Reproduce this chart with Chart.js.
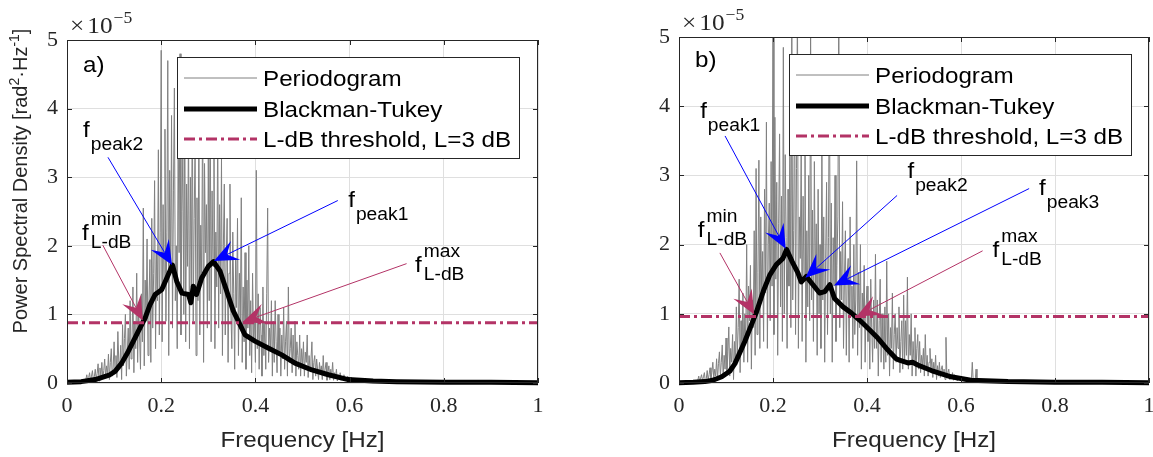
<!DOCTYPE html>
<html>
<head>
<meta charset="utf-8">
<script src="https://cdn.jsdelivr.net/npm/chart.js@4.4.0/dist/chart.umd.min.js"></script>
<style>
  html, body { margin: 0; padding: 0; background: #fff; }
  #wrap { position: relative; width: 1153px; height: 457px; overflow: hidden; }
  canvas { position: absolute; top: 0; }
</style>
</head>
<body>
<div id="wrap">
  <canvas id="chartA" width="576" height="457" style="left:0px"></canvas>
  <canvas id="chartB" width="577" height="457" style="left:576px"></canvas>
</div>
<script>
// ---- data (PSD values in units of 1e-5 rad^2/Hz) ----
const PG_START = 0.04;  // first periodogram bin shown [Hz]
const PG_STEP = 0.002;  // periodogram frequency spacing [Hz]
const xTickVals = [0, 0.2, 0.4, 0.6, 0.8, 1];
const xTickLabels = ['0', '0.2', '0.4', '0.6', '0.8', '1'];
const yTickVals = [0, 1, 2, 3, 4, 5];
const yTickLabels = ['0', '1', '2', '3', '4', '5'];
const legendLabels = ['Periodogram', 'Blackman-Tukey', 'L-dB threshold, L=3 dB'];

// panel a) periodogram, one row per 0.02 Hz starting at 0.04 Hz
const pgramA = [
  0.05,0.12,0.03,0.08,0.15,0.02,0.10,0.18,0.04,0.09,
  0.20,0.05,0.14,0.28,0.03,0.22,0.10,0.30,0.06,0.18,
  0.35,0.08,0.25,0.12,0.42,0.05,0.30,0.50,0.10,0.22,
  0.60,0.15,0.40,0.08,0.75,0.30,0.20,0.55,0.05,0.85,
  0.25,0.65,1.00,0.10,0.45,0.80,0.20,1.20,0.35,0.60,
  1.40,0.15,0.90,0.50,1.60,0.30,1.10,0.70,0.20,1.30,
  0.60,2.55,0.25,1.50,0.90,2.10,0.40,1.20,1.80,0.30,
  2.40,0.80,1.60,2.95,0.50,1.90,1.20,3.40,0.70,2.20,
  4.85,0.60,2.60,1.40,3.70,0.90,2.20,4.70,0.40,3.10,
  1.60,3.90,0.80,2.80,4.30,1.20,2.00,0.50,3.60,1.90,
  4.80,0.70,2.50,3.40,1.00,4.10,0.60,2.90,1.70,3.80,
  0.50,3.00,1.40,4.20,0.90,2.40,3.50,0.40,2.70,1.20,
  3.80,0.70,2.30,1.60,4.20,0.30,3.20,1.90,2.60,0.80,
  3.30,1.20,4.40,0.60,2.80,1.70,3.75,0.50,2.20,1.40,
  3.75,0.80,2.60,1.30,3.30,0.40,2.00,2.90,0.70,1.80,
  2.40,0.30,1.60,2.90,1.00,0.50,2.20,1.30,0.20,1.80,
  1.10,2.40,0.40,1.60,0.90,2.70,0.30,1.40,0.60,1.90,
  0.20,1.50,0.80,2.00,0.40,1.20,0.15,1.60,0.60,1.00,
  0.30,3.10,0.50,1.30,0.20,1.10,0.70,0.10,1.40,0.40,
  0.90,0.20,1.30,2.55,0.30,0.80,0.50,1.20,0.10,0.90,
  0.30,1.20,0.60,0.15,1.00,0.40,0.80,0.10,0.70,0.35,
  1.10,0.20,0.60,0.90,0.10,1.40,0.30,0.50,0.80,0.15,
  0.70,0.30,0.90,0.10,0.60,0.40,0.20,0.70,0.10,0.50,
  0.25,0.60,0.10,0.45,0.30,0.70,0.08,0.40,0.20,0.35,
  0.60,0.05,0.30,0.40,0.10,0.35,0.20,0.05,0.30,0.15,
  0.25,0.05,0.40,0.10,0.20,0.30,0.04,0.15,0.25,0.05,
  0.20,0.10,0.30,0.04,0.15,0.08,0.20,0.03,0.12,0.05,
  0.15,0.04,0.10,0.06,0.12,0.03,0.08,0.05,0.10,0.02,
  0.06,0.03,0.08,0.02,0.05,0.04,0.03,0.05,0.02,0.03,
  0.04,0.02,0.03,0.02,0.03,0.01,0.02,0.02,0.01,0.02
];
const btFreqA = [0, 0.03, 0.06, 0.091, 0.102, 0.116, 0.130, 0.151, 0.166, 0.176, 0.187, 0.201, 0.212, 0.224, 0.233, 0.244, 0.258, 0.263, 0.268, 0.275, 0.286, 0.300, 0.311, 0.325, 0.339, 0.353, 0.364, 0.378, 0.399, 0.427, 0.456, 0.484, 0.520, 0.555, 0.597, 0.65, 0.70, 0.80, 0.90, 1.0];
const btValA  = [0.01, 0.02, 0.05, 0.12, 0.17, 0.29, 0.46, 0.75, 0.95, 1.14, 1.29, 1.36, 1.53, 1.72, 1.48, 1.31, 1.29, 1.17, 1.41, 1.29, 1.53, 1.70, 1.77, 1.63, 1.34, 1.05, 0.90, 0.70, 0.61, 0.51, 0.41, 0.29, 0.19, 0.12, 0.05, 0.03, 0.02, 0.01, 0.01, 0.005];
const thresholdA = 0.88;

// panel b) periodogram, one row per 0.02 Hz starting at 0.04 Hz
const pgramB = [
  0.04,0.10,0.02,0.07,0.12,0.03,0.09,0.15,0.02,0.06,
  0.18,0.04,0.12,0.22,0.05,0.15,0.30,0.06,0.20,0.10,
  0.35,0.05,0.28,0.45,0.10,0.30,0.55,0.08,0.40,0.20,
  0.65,0.15,0.45,0.81,0.10,0.50,0.30,0.70,0.05,0.60,
  0.25,1.10,0.40,0.80,1.50,0.15,0.90,0.50,1.30,0.30,
  1.00,0.60,2.00,0.30,1.40,0.90,1.70,0.20,1.20,0.80,
  2.20,0.40,3.10,0.70,1.60,3.22,0.50,2.40,1.20,1.90,
  0.60,2.80,1.30,3.77,0.50,2.00,2.60,0.90,3.20,1.40,
  5.60,0.70,3.84,1.50,2.90,0.40,2.30,3.60,1.10,2.70,
  0.60,4.85,1.00,3.30,2.10,0.50,2.80,1.40,3.90,0.80,
  5.40,1.20,2.20,4.60,0.70,3.10,5.50,0.50,2.40,1.80,
  3.40,0.60,2.70,1.50,3.90,0.30,2.20,1.10,3.00,0.90,
  5.30,1.20,2.50,0.60,3.20,1.40,2.30,0.40,2.80,1.00,
  2.00,0.50,3.50,1.20,2.40,0.30,1.80,2.90,0.70,2.10,
  4.75,1.00,2.60,0.30,2.10,1.40,3.00,0.60,1.70,2.40,
  5.60,0.80,1.90,1.20,2.62,0.50,1.50,2.20,0.40,1.60,
  1.80,0.30,2.40,1.00,1.40,0.50,2.00,0.70,1.20,3.21,
  0.40,1.60,0.80,2.00,0.20,1.30,0.90,1.70,0.30,1.10,
  1.40,0.60,1.10,0.20,1.50,0.80,0.30,1.20,0.50,1.86,
  0.50,1.20,0.10,0.90,1.50,0.30,1.00,0.60,0.20,1.10,
  0.30,1.76,0.40,1.00,0.10,0.80,0.50,1.30,0.20,0.70,
  1.00,0.30,0.80,0.50,1.10,0.15,0.60,0.90,0.20,1.27,
  0.30,0.90,0.40,1.53,0.20,0.70,0.40,1.00,0.10,0.60,
  0.30,0.80,0.10,0.50,0.70,0.20,0.60,0.15,0.40,0.25,
  0.50,0.10,0.70,0.20,0.40,0.10,0.30,0.50,0.20,0.35,
  0.08,0.30,0.15,0.40,0.05,0.25,0.10,0.30,0.08,0.20,
  0.25,0.10,0.20,0.05,0.66,0.08,0.15,0.20,0.05,0.12,
  0.08,0.15,0.04,0.12,0.06,0.10,0.03,0.08,0.05,0.10,
  0.04,0.08,0.03,0.06,0.05,0.04,0.03,0.06,0.02,0.04,
  0.05,0.02,0.30,0.03,0.04,0.02,0.20,0.02,0.03,0.02
];
const btFreqB = [0, 0.03, 0.055, 0.072, 0.091, 0.108, 0.119, 0.140, 0.154, 0.165, 0.179, 0.193, 0.207, 0.221, 0.229, 0.241, 0.253, 0.260, 0.271, 0.285, 0.299, 0.310, 0.321, 0.331, 0.349, 0.367, 0.384, 0.402, 0.423, 0.444, 0.462, 0.469, 0.487, 0.497, 0.508, 0.537, 0.579, 0.621, 0.70, 0.80, 0.90, 1.0];
const btValB  = [0.005, 0.01, 0.02, 0.04, 0.09, 0.17, 0.28, 0.60, 0.84, 1.03, 1.32, 1.56, 1.71, 1.80, 1.93, 1.75, 1.59, 1.46, 1.54, 1.42, 1.30, 1.32, 1.42, 1.22, 1.10, 1.01, 0.91, 0.79, 0.65, 0.48, 0.35, 0.33, 0.29, 0.30, 0.26, 0.18, 0.09, 0.04, 0.02, 0.01, 0.01, 0.005];
const thresholdB = 0.96;

// ---- styles ----
const GRAY = '#808080', BLACK = '#000000', CRIMSON = '#B33366', BLUE = '#0000FF';
const TXT = '#262626', GRID = '#dfdfdf';
const SANS = '"Liberation Sans", Arial, Helvetica, sans-serif';
const SERIF = '"Liberation Serif", "Times New Roman", serif';
const SX = 1.1; // glyphs in the figure are slightly wide

// annotation placement in data coordinates (f [Hz], psd)
const notesA = [
  { sub: 'peak2', at: [0.034, 3.59], tail: [0.087, 3.29], tip: [0.223, 1.72], color: BLUE },
  { sub: 'peak1', at: [0.597, 2.57], tail: [0.575, 2.66], tip: [0.312, 1.78], color: BLUE },
  { sub: 'L-dB', sup: 'min', at: [0.032, 2.08], tail: [0.076, 2.01], tip: [0.161, 0.91], color: CRIMSON },
  { sub: 'L-dB', sup: 'max', at: [0.739, 1.62], tail: [0.721, 1.74], tip: [0.373, 0.89], color: CRIMSON }
];
const notesB = [
  { sub: 'peak1', at: [0.045, 3.83], tail: [0.098, 3.57], tip: [0.227, 1.94], color: BLUE },
  { sub: 'peak2', at: [0.486, 2.96], tail: [0.464, 2.71], tip: [0.269, 1.52], color: BLUE },
  { sub: 'peak3', at: [0.766, 2.72], tail: [0.745, 2.81], tip: [0.330, 1.41], color: BLUE },
  { sub: 'L-dB', sup: 'min', at: [0.040, 2.11], tail: [0.087, 1.88], tip: [0.160, 0.99], color: CRIMSON },
  { sub: 'L-dB', sup: 'max', at: [0.667, 1.82], tail: [0.646, 1.91], tip: [0.378, 0.96], color: CRIMSON }
];

function putText(ctx, s, x, y, size, family, color, sx = SX) {
  ctx.save();
  ctx.font = size + 'px ' + family;
  ctx.fillStyle = color;
  ctx.textAlign = 'left';
  ctx.textBaseline = 'alphabetic';
  ctx.translate(x, y);
  ctx.scale(sx, 1);
  ctx.fillText(s, 0, 0);
  const w = ctx.measureText(s).width * sx;
  ctx.restore();
  return w;
}

function textWidth(ctx, s, size, family, sx = SX) {
  ctx.save();
  ctx.font = size + 'px ' + family;
  const w = ctx.measureText(s).width * sx;
  ctx.restore();
  return w;
}

function drawArrow(ctx, p0, p1, color) {
  const dx = p1.x - p0.x, dy = p1.y - p0.y, len = Math.hypot(dx, dy);
  const ux = dx / len, uy = dy / len, nx = -uy, ny = ux;
  const L = 24, W = 10.5, N = 0.6;
  ctx.save();
  ctx.strokeStyle = color;
  ctx.lineWidth = 1;
  ctx.beginPath();
  ctx.moveTo(p0.x, p0.y);
  ctx.lineTo(p1.x - ux * L * N, p1.y - uy * L * N);
  ctx.stroke();
  ctx.fillStyle = color;
  ctx.beginPath();
  ctx.moveTo(p1.x, p1.y);
  ctx.lineTo(p1.x - ux * L + nx * W, p1.y - uy * L + ny * W);
  ctx.lineTo(p1.x - ux * L * N, p1.y - uy * L * N);
  ctx.lineTo(p1.x - ux * L - nx * W, p1.y - uy * L - ny * W);
  ctx.closePath();
  ctx.fill();
  ctx.restore();
}

function decorPlugin(p) {
  return {
    id: 'decor',
    afterDraw(chart) {
      const { ctx, chartArea: a, scales: { x, y } } = chart;
      const px = f => x.getPixelForValue(f);
      const py = v => y.getPixelForValue(v);

      // axes box with inward ticks
      ctx.save();
      ctx.strokeStyle = TXT;
      ctx.lineWidth = 1;
      ctx.strokeRect(a.left + 0.5, a.top + 0.5, a.right - a.left - 1, a.bottom - a.top - 1);
      ctx.beginPath();
      xTickVals.forEach(v => {
        const xx = Math.round(px(v)) + 0.5;
        ctx.moveTo(xx, a.bottom); ctx.lineTo(xx, a.bottom - 5);
        ctx.moveTo(xx, a.top); ctx.lineTo(xx, a.top + 5);
      });
      yTickVals.forEach(v => {
        const yy = Math.round(py(v)) + 0.5;
        ctx.moveTo(a.left, yy); ctx.lineTo(a.left + 5, yy);
        ctx.moveTo(a.right, yy); ctx.lineTo(a.right - 5, yy);
      });
      ctx.stroke();
      ctx.restore();

      // legend
      const bx = a.left + 110, by = a.top + 17, bw = 342, bh = 101;
      ctx.save();
      ctx.fillStyle = '#fff';
      ctx.fillRect(bx, by, bw, bh);
      ctx.strokeStyle = TXT;
      ctx.lineWidth = 1;
      ctx.strokeRect(bx + 0.5, by + 0.5, bw, bh);
      const rows = [21, 52, 82];
      const styles = [
        { c: GRAY, w: 1, d: [] },
        { c: BLACK, w: 5, d: [] },
        { c: CRIMSON, w: 3, d: [11, 4, 3, 4] }
      ];
      rows.forEach((r, i) => {
        const ry = by + r;
        ctx.save();
        ctx.strokeStyle = styles[i].c;
        ctx.lineWidth = styles[i].w;
        ctx.setLineDash(styles[i].d);
        ctx.beginPath();
        ctx.moveTo(bx + 7, ry);
        ctx.lineTo(bx + 80, ry);
        ctx.stroke();
        ctx.restore();
        putText(ctx, legendLabels[i], bx + 86, ry + 8, 22, SANS, '#000');
      });
      ctx.restore();

      // panel tag
      putText(ctx, p.tag, px(p.tagAt[0]), py(p.tagAt[1]), 22, SANS, '#000');

      // annotations
      p.notes.forEach(n => {
        drawArrow(ctx, { x: px(n.tail[0]), y: py(n.tail[1]) }, { x: px(n.tip[0]), y: py(n.tip[1]) }, n.color);
        const lx = px(n.at[0]), ly = py(n.at[1]);
        const w = putText(ctx, 'f', lx, ly, 22, SANS, '#000');
        if (n.sup) {
          putText(ctx, n.sup, lx + w + 2, ly - 15, 17.5, SANS, '#000');
          putText(ctx, n.sub, lx + w + 2, ly + 8, 17.5, SANS, '#000');
        } else {
          putText(ctx, n.sub, lx + w + 1, ly + 13, 17.5, SANS, '#000');
        }
      });

      // exponent label
      const ex = a.left + 3, ey = a.top - 7;
      const w1 = putText(ctx, '\u00d7', ex, ey, 23, SERIF, TXT);
      const w2 = putText(ctx, '10', ex + w1 + 3, ey, 23, SERIF, TXT);
      putText(ctx, '\u22125', ex + w1 + 3 + w2 + 1, ey - 10, 16, SERIF, TXT);

      // x title
      const xt = 'Frequency [Hz]';
      const xw = textWidth(ctx, xt, 22, SANS);
      putText(ctx, xt, (a.left + a.right) / 2 - xw / 2, 447, 22, SANS, TXT);

      // y title
      if (p.yTitle) {
        const segs = [
          { t: 'Power Spectral Density [rad', s: false },
          { t: '2', s: true },
          { t: '\u00b7Hz', s: false },
          { t: '-1', s: true },
          { t: ']', s: false }
        ];
        let total = 0;
        segs.forEach(sg => { total += textWidth(ctx, sg.t, sg.s ? 14 : 20, SANS, 1); });
        ctx.save();
        ctx.translate(27, 181 + total / 2);
        ctx.rotate(-Math.PI / 2);
        let cx = 0;
        segs.forEach(sg => {
          cx += putText(ctx, sg.t, cx, sg.s ? -8 : 0, sg.s ? 14 : 20, SANS, TXT, 1);
        });
        ctx.restore();
      }
    }
  };
}

function makePanel(id, p) {
  const canvas = document.getElementById(id);
  const W = canvas.width;
  return new Chart(canvas, {
    type: 'line',
    data: {
      datasets: [
        {
          label: legendLabels[0],
          data: p.pgram.map((v, i) => ({ x: PG_START + i * PG_STEP, y: v })),
          borderColor: GRAY, borderWidth: 1, pointRadius: 0,
          borderJoinStyle: 'round', tension: 0, clip: 0, order: 3
        },
        {
          label: legendLabels[1],
          data: p.btF.map((f, i) => ({ x: f, y: p.btV[i] })),
          borderColor: BLACK, borderWidth: 5, pointRadius: 0,
          borderJoinStyle: 'round', tension: 0,
          clip: { left: 0, right: 0, top: 0, bottom: 4 }, order: 2
        },
        {
          label: legendLabels[2],
          data: [{ x: 0, y: p.thr }, { x: 1, y: p.thr }],
          borderColor: CRIMSON, borderWidth: 3, borderDash: [11, 4, 3, 4],
          pointRadius: 0, clip: 0, order: 1
        }
      ]
    },
    options: {
      responsive: false,
      animation: false,
      events: [],
      layout: { padding: { left: 0, top: p.top, right: W - p.right, bottom: 0 } },
      plugins: { legend: { display: false }, tooltip: { enabled: false } },
      scales: {
        x: {
          type: 'linear', min: 0, max: 1,
          afterBuildTicks: s => { s.ticks = xTickVals.map(v => ({ value: v })); },
          ticks: {
            callback: (v, i) => xTickLabels[i],
            font: { family: SERIF, size: 22 }, color: TXT,
            padding: 10, maxRotation: 0, autoSkip: false
          },
          grid: { color: GRID, lineWidth: 1, drawTicks: false },
          border: { display: false },
          afterFit: s => { s.height = 457 - 383; s.paddingLeft = 0; s.paddingRight = 0; }
        },
        y: {
          type: 'linear', min: 0, max: 5,
          afterBuildTicks: s => { s.ticks = yTickVals.map(v => ({ value: v })); },
          ticks: {
            callback: (v, i) => yTickLabels[i],
            font: { family: SERIF, size: 22 }, color: TXT, padding: 9
          },
          grid: { color: GRID, lineWidth: 1, drawTicks: false },
          border: { display: false },
          afterFit: s => { s.width = p.left; s.paddingTop = 0; s.paddingBottom = 0; }
        }
      }
    },
    plugins: [decorPlugin(p)]
  });
}

makePanel('chartA', {
  pgram: pgramA, btF: btFreqA, btV: btValA, thr: thresholdA,
  notes: notesA, tag: 'a)', tagAt: [0.034, 4.53], yTitle: true,
  left: 67, right: 538, top: 40
});
makePanel('chartB', {
  pgram: pgramB, btF: btFreqB, btV: btValB, thr: thresholdB,
  notes: notesB, tag: 'b)', tagAt: [0.034, 4.57], yTitle: false,
  left: 103, right: 573, top: 37
});
</script>
</body>
</html>
